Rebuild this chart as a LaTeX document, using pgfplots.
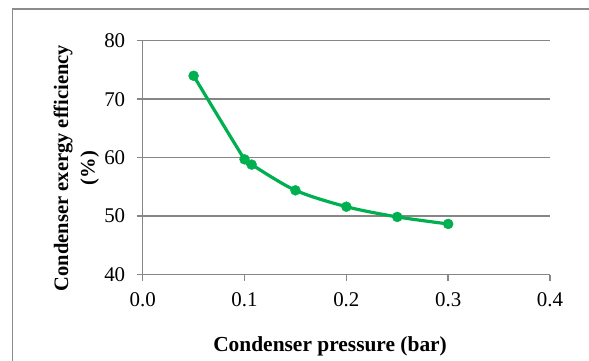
\documentclass[border=0pt]{standalone}
\usepackage{fontspec}
\setmainfont{Liberation Serif}
\usepackage{pgfplots}
\pgfplotsset{compat=1.18}

\definecolor{linegreen}{RGB}{0,176,80}
\definecolor{gridgray}{RGB}{134,134,134}
\definecolor{framegray}{RGB}{140,140,140}

\begin{document}
\begin{tikzpicture}[x=1bp,y=1bp]
  \useasboundingbox (0,0) rectangle (589,360);
  % chart frame (only left and top edges fall inside the page)
  \draw[framegray, line width=1.5bp] (12.3,-20) -- (12.3,351) -- (620,351);
  \begin{axis}[
    at={(142.7bp,85.5bp)}, anchor=south west,
    scale only axis, width=407.3bp, height=233.8bp,
    xmin=0, xmax=0.4, ymin=40, ymax=80,
    xtick={0,0.1,0.2,0.3,0.4},
    ytick={40,50,60,70,80},
    axis x line*=bottom, axis y line*=left,
    axis line style={gridgray, line width=1.4bp, -},
    ymajorgrids, major grid style={gridgray, line width=1.4bp},
    tick align=outside, major tick length=6bp,
    tick style={gridgray, line width=1.4bp},
    xticklabel style={/pgf/number format/fixed, /pgf/number format/fixed zerofill,
      /pgf/number format/precision=1, yshift=-9bp},
    yticklabel style={xshift=-8bp},
    /pgf/number format/assume math mode=true,
    tick label style={font=\fontsize{21}{24}\selectfont, text=black},
    xlabel={Condenser pressure (bar)},
    ylabel={Condenser exergy efficiency\\(\%)},
    xlabel style={font=\fontsize{21.5}{27}\selectfont\bfseries,
      at={(rel axis cs:0.46,-0.309)}, anchor=center},
    ylabel style={font=\fontsize{20.6}{26.5}\selectfont\bfseries,
      at={(rel axis cs:-0.163,0.4555)}, anchor=center, align=center},
    clip=false,
  ]
    \addplot[linegreen, line width=3.2bp, smooth, tension=0.5,
      mark=*, mark size=5bp, mark options={solid, fill=linegreen, draw=linegreen, line width=0.4bp}]
      coordinates {
        (0.05, 74.0)
        (0.10, 59.7)
        (0.107, 58.8)
        (0.15, 54.4)
        (0.20, 51.6)
        (0.25, 49.85)
        (0.30, 48.65)
      };
  \end{axis}
\end{tikzpicture}
\end{document}
